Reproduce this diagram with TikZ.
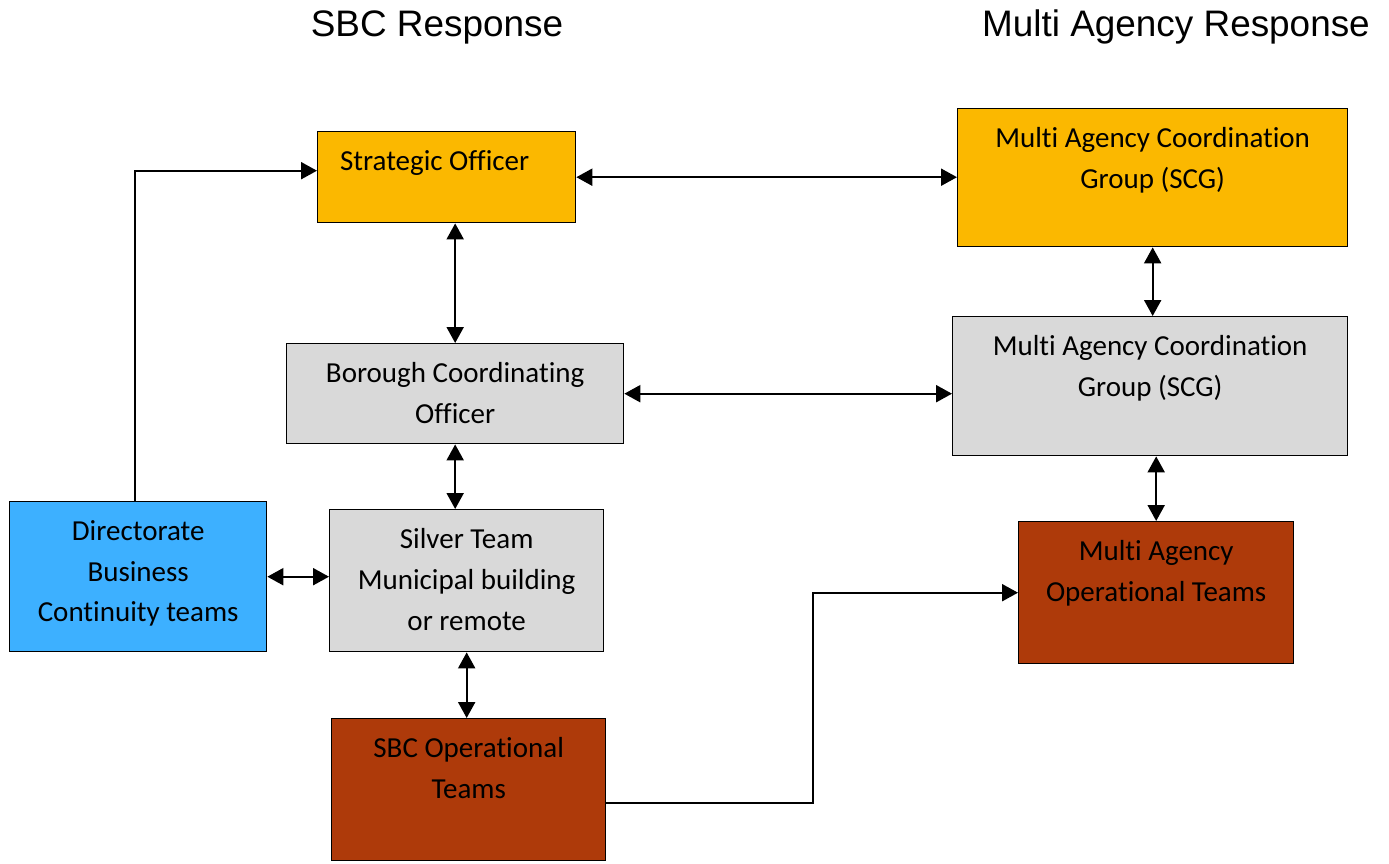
\documentclass[tikz,border=0pt]{standalone}
\usepackage{fontspec}
\setmainfont{Carlito}[Ligatures=NoCommon]
\newfontfamily\headfont{Liberation Sans}
\usepackage{xcolor}
\usepackage{tikz}
\usetikzlibrary{arrows.meta,positioning}
\definecolor{gold}{HTML}{FBB800}
\definecolor{greybox}{HTML}{D9D9D9}
\definecolor{skyblue}{HTML}{3DB0FF}
\definecolor{rust}{HTML}{AE3A0A}

\tikzset{
  box/.style={draw=black,line width=0.8pt,anchor=north west,inner sep=0pt},
  boxtext/.style={inner sep=0pt,align=center,font=\fontsize{16.5}{23.2}\selectfont},
  head/.style={font=\headfont\fontsize{21}{24}\selectfont},
  link/.style={line width=1.2pt,{Triangle[length=3.2mm,width=3.4mm]}-{Triangle[length=3.2mm,width=3.4mm]}},
  onelink/.style={line width=1.2pt,-{Triangle[length=3.2mm,width=3.4mm]}}
}

\begin{document}
\begin{tikzpicture}[x=0.02cm,y=-0.02cm]
\useasboundingbox (0,0) rectangle (1389,863);
\node[head] (sbchead) at (437,27) {SBC Response};
\node[head] (mahead) at (1176,27) {Multi Agency Response};
% SBC side
\node[box,fill=gold,minimum width=5.16cm,minimum height=1.82cm] (strat) at (317,131) {};
\node[box,fill=greybox,minimum width=6.74cm,minimum height=2.00cm] (borough) at (286,343) {};
\node[box,fill=skyblue,minimum width=5.14cm,minimum height=3.00cm] (direct) at (9,501) {};
\node[box,fill=greybox,minimum width=5.48cm,minimum height=2.84cm] (silver) at (329,509) {};
\node[box,fill=rust,minimum width=5.48cm,minimum height=2.84cm] (sbcops) at (331,718) {};
% multi agency side
\node[box,fill=gold,minimum width=7.80cm,minimum height=2.76cm] (magold) at (957,108) {};
\node[box,fill=greybox,minimum width=7.90cm,minimum height=2.78cm] (magrey) at (952,316) {};
\node[box,fill=rust,minimum width=5.50cm,minimum height=2.84cm] (maops) at (1018,521) {};
% texts
\node[boxtext,below=0.38cm of strat.north,xshift=-0.24cm] (strat-t) {Strategic Officer};
\node[boxtext,below=0.38cm of borough.north] (borough-t) {Borough Coordinating\\Officer};
\node[boxtext,below=0.38cm of direct.north] (direct-t) {Directorate\\Business\\Continuity teams};
\node[boxtext,below=0.38cm of silver.north] (silver-t) {Silver Team\\Municipal building\\or remote};
\node[boxtext,below=0.38cm of sbcops.north] (sbcops-t) {SBC Operational\\Teams};
\node[boxtext,below=0.38cm of magold.north] (magold-t) {Multi Agency Coordination\\Group (SCG)};
\node[boxtext,below=0.38cm of magrey.north] (magrey-t) {Multi Agency Coordination\\Group (SCG)};
\node[boxtext,below=0.38cm of maops.north] (maops-t) {Multi Agency\\Operational Teams};
% connectors
\draw[link] (strat.east) -- (strat.east -| magold.west);
\draw[link] (borough.east) -- (borough.east -| magrey.west);
\draw[link] (borough.north |- strat.south) -- (borough.north);
\draw[link] (borough.south) -- (borough.south |- silver.north);
\draw[link] (silver.south) -- (silver.south |- sbcops.north);
\draw[link] (direct.east) -- (direct.east -| silver.west);
\draw[link] (magold.south) -- (magold.south |- magrey.north);
\draw[link] (maops.north |- magrey.south) -- (maops.north);
\draw[onelink] ([xshift=-0.06cm]direct.north) |- ([yshift=0.13cm]strat.west);
\draw[onelink] ([yshift=-0.26cm]sbcops.east) -- ++(4.14cm,0) |- (maops.west);
\end{tikzpicture}
\end{document}
